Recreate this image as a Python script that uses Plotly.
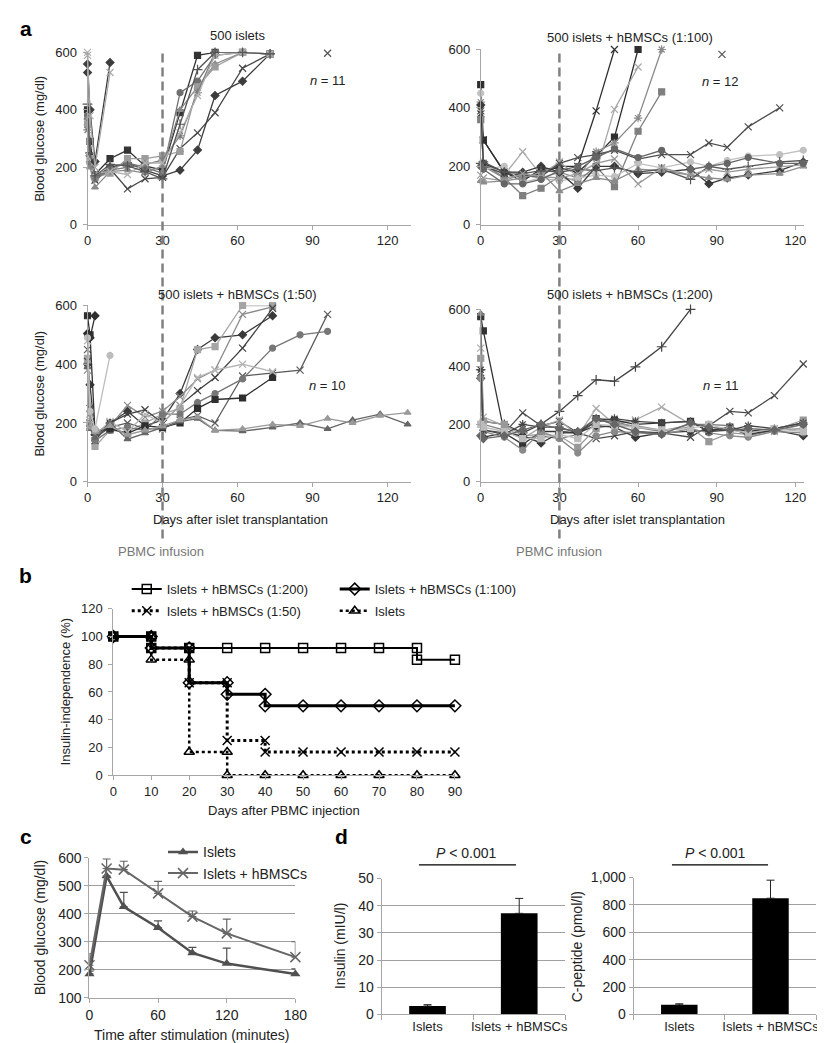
import plotly.graph_objects as go

# ======================= DATA =======================
# Panel a - blood glucose (mg/dl) per mouse vs days after islet transplantation
TL_DAYS = [0, 1, 3, 9, 16, 23, 30, 37, 44, 51, 62, 73]
TL_GLUCOSE = [
    [400, 290, 175, 230, 260, 205, 190, 390, 590, 600, 600, 595],
    [530, 240, 165, 200, 215, 190, 170, 190, 260, 450, 500, 595],
    [360, 230, 155, 195, 125, 160, 165, 265, 320, 390, 545, 595],
    [380, 215, 165, 195, 215, 200, 180, 460, 500, 590, 600, 595],
    [370, 200, 130, 185, 190, 180, 205, 400, 480, 560, 600, 595],
    [350, 230, 165, 180, 230, 230, 240, 255, 480, 550, 600, 595],
    [330, 220, 160, 190, 200, 210, 225, 310, 460, 600, 600, 595],
    [600, 230, 180, 185, 175, 215, 215, 320, 450, 590, 600, 595],
    [420, 250, 170, 210, 205, 185, 160, 350, 540, 600, 600, 595],
]
TL_EARLY_DAYS = [0, 1, 3, 9]
TL_EARLY = [
    [560, 400, 220, 565],
    [590, 380, 200, 530],
]
TL_LONE_DAY = [96]
TL_LONE_VALUE = [597]

TR_DAYS = [0, 1, 9, 16, 23, 30, 37, 44, 51, 60, 69, 80, 87, 94, 102, 114, 123]
TR_GLUCOSE = [
    [380, 290, 180, 160, 175, 200, 200, 390, 600],
    [480, 290, 180, 150, 190, 195, 180, 235, 300, 600],
    [400, 210, 170, 250, 170, 215, 165, 180, 395, 540],
    [420, 200, 160, 170, 160, 180, 160, 250, 280, 365, 600],
    [360, 210, 160, 100, 125, 165, 150, 200, 130, 320, 455],
    [390, 200, 175, 170, 165, 210, 230, 240, 255, 225, 240, 240, 280, 265, 335, 400],
    [450, 190, 200, 145, 160, 150, 160, 170, 165, 210, 195, 215, 200, 220, 235, 240, 255],
    [410, 210, 180, 180, 200, 180, 125, 200, 200, 175, 180, 190, 140, 160, 170, 185, 215],
    [150, 145, 150, 160, 180, 115, 140, 160, 150, 190, 185, 170, 160, 155, 170, 175, 200],
    [210, 215, 180, 175, 185, 180, 190, 185, 195, 180, 190, 155, 200, 190, 200, 215, 220],
    [170, 160, 150, 175, 165, 160, 175, 210, 225, 140, 195, 170, 190, 180, 190, 200, 205],
    [200, 190, 140, 140, 155, 185, 200, 230, 260, 230, 255, 190, 200, 210, 230, 210, 210],
]
TR_LONE_DAY = [92]
TR_LONE_VALUE = [583]

BL_DAYS = [0, 1, 3, 9, 16, 23, 30, 37, 44, 51, 62, 74, 85, 96, 106, 117, 128]
BL_GLUCOSE = [
    [400, 330, 160, 200, 240, 190, 210, 300, 450, 490, 500, 565],
    [420, 200, 120, 175, 170, 200, 230, 250, 450, 460, 600, 600],
    [380, 230, 150, 190, 260, 220, 240, 290, 350, 380, 570, 595],
    [410, 250, 140, 200, 230, 245, 200, 260, 310, 355, 455, 590],
    [450, 200, 150, 185, 200, 180, 180, 210, 225, 200, 360, 370, 380, 570],
    [500, 190, 140, 175, 185, 175, 230, 230, 270, 300, 350, 455, 500, 512],
    [565, 500, 170, 180, 165, 190, 185, 200, 250, 280, 285, 355],
    [480, 210, 160, 205, 170, 230, 200, 260, 355, 380, 400, 375],
    [390, 180, 150, 200, 145, 165, 185, 205, 215, 175, 172, 185, 200, 180, 210, 230, 195],
    [410, 185, 170, 190, 160, 175, 190, 210, 220, 175, 180, 195, 190, 215, 200, 225, 235],
]
BL_EARLY_DAYS = [0, 1, 3, 9]
BL_EARLY = [
    [505, 490, 565],
    [490, 240, 180, 430],
]

BR_DAYS = [0, 1, 9, 16, 23, 30, 37, 44, 51, 59, 69, 80, 87, 95, 102, 112, 123]
BR_GLUCOSE = [
    [390, 210, 200, 170, 200, 245, 300, 355, 350, 400, 470, 600],
    [380, 180, 170, 240, 195, 210, 170, 150, 160, 175, 170, 155, 195, 245, 240, 300, 410],
    [465, 225, 195, 150, 190, 215, 160, 255, 200, 215, 260, 200, 190, 185, 175, 175, 200],
    [575, 525, 170, 130, 175, 175, 170, 220, 215, 200, 205, 210, 175, 190, 175, 185, 205],
    [585, 200, 180, 150, 160, 150, 165, 210, 210, 190, 175, 200, 200, 195, 160, 180, 185],
    [430, 210, 200, 160, 165, 160, 120, 185, 200, 195, 180, 190, 140, 170, 165, 180, 215],
    [360, 155, 170, 160, 135, 170, 170, 195, 190, 155, 170, 175, 180, 185, 165, 180, 160],
    [360, 175, 155, 110, 175, 150, 100, 160, 175, 170, 165, 185, 170, 160, 155, 175, 170],
    [390, 180, 165, 200, 190, 190, 170, 210, 220, 210, 205, 210, 175, 180, 195, 185, 205],
    [200, 190, 175, 150, 150, 165, 150, 200, 195, 190, 180, 185, 200, 180, 170, 185, 175],
    [160, 150, 160, 180, 200, 185, 175, 220, 200, 175, 165, 205, 190, 180, 185, 180, 200],
]

PANEL_A_TITLES = ["500 islets", "500 islets + hBMSCs (1:100)",
                  "500 islets + hBMSCs (1:50)", "500 islets + hBMSCs (1:200)"]
PANEL_A_N = [11, 12, 10, 11]
PANEL_A_XTICKS = [0, 30, 60, 90, 120]
PANEL_A_YTICKS = [0, 200, 400, 600]
PBMC_DAY = 30

# Panel b - Kaplan-Meier insulin independence (%)
KM_DAYS = [0, 10, 20, 30, 40, 50, 60, 70, 80, 90]
KM_200 = [100, 91.7, 91.7, 91.7, 91.7, 91.7, 91.7, 91.7, 83.3, 83.3]
KM_100 = [100, 91.7, 66.7, 58.3, 50, 50, 50, 50, 50, 50]
KM_50 = [100, 91.7, 66.7, 25, 16.7, 16.7, 16.7, 16.7, 16.7, 16.7]
KM_ISLETS = [100, 83.3, 16.7, 0, 0, 0, 0, 0, 0, 0]
KM_NAMES = ["Islets + hBMSCs (1:200)", "Islets + hBMSCs (1:100)",
            "Islets + hBMSCs (1:50)", "Islets"]
KM_PVALUES = ["<i>P</i> < 0.001", "<i>P</i> = 0.002", "<i>P</i> = 0.013"]

# Panel c - glucose tolerance
IPGTT_MIN = [0, 15, 30, 60, 90, 120, 180]
IPGTT_ISLETS = [185, 535, 425, 350, 260, 222, 185]
IPGTT_ISLETS_ERR = [10, 0, 52, 25, 20, 55, 18]
IPGTT_HBMSC = [216, 562, 558, 473, 390, 330, 245]
IPGTT_HBMSC_ERR = [42, 34, 30, 43, 20, 51, 55]

# Panel d - insulin and C-peptide
D_GROUPS = ["Islets", "Islets + hBMSCs"]
INSULIN = [3.1, 37.2]
INSULIN_ERR = [0.5, 5.5]
CPEPTIDE = [70, 849]
CPEPTIDE_ERR = [8, 132]
D_PVALUE = "<i>P</i> < 0.001"

# ======================= FIGURE =======================
W, H = 825, 1043
FONT = "Liberation Sans, Arial, Helvetica, sans-serif"


def px(x):
    return x / W


def py(y):
    return 1 - y / H


def dom_x(a, b):
    return [a / W, b / W]


def dom_y(top, bottom):
    return [1 - bottom / H, 1 - top / H]


fig = go.Figure()

LINE_SYMBOLS = {"x-thin-open", "asterisk-open", "cross-thin-open"}


def add_series(days, vals, color, symbol, xa, ya, width=1.3):
    n = len(vals)
    size = 7 if symbol in LINE_SYMBOLS else 6
    fig.add_trace(go.Scatter(
        x=days[:n], y=vals, mode="lines+markers",
        line=dict(color=color, width=width),
        marker=dict(symbol=symbol, size=size, color=color,
                    line=dict(color=color, width=1.2)),
        xaxis=xa, yaxis=ya, showlegend=False, cliponaxis=False,
        hoverinfo="skip"))


TL_STYLE = [("#333333", "square"), ("#3d3d3d", "diamond"), ("#474747", "x-thin-open"),
            ("#707070", "circle"), ("#8a8a8a", "triangle-up"), ("#9c9c9c", "square"),
            ("#7a7a7a", "asterisk-open"), ("#b0b0b0", "x-thin-open"), ("#555555", "cross-thin-open")]
TL_EARLY_STYLE = [("#3d3d3d", "diamond"), ("#a8a8a8", "x-thin-open")]
TR_STYLE = [("#2e2e2e", "x-thin-open"), ("#2e2e2e", "square"), ("#a8a8a8", "x-thin-open"),
            ("#8a8a8a", "asterisk-open"), ("#7f7f7f", "square"), ("#4d4d4d", "x-thin-open"),
            ("#c0c0c0", "circle"), ("#3a3a3a", "diamond"), ("#8c8c8c", "triangle-up"),
            ("#555555", "cross-thin-open"), ("#9a9a9a", "x-thin-open"), ("#666666", "circle")]
BL_STYLE = [("#3a3a3a", "diamond"), ("#a5a5a5", "square"), ("#8a8a8a", "x-thin-open"),
            ("#404040", "x-thin-open"), ("#5a5a5a", "x-thin-open"), ("#777777", "circle"),
            ("#2f2f2f", "square"), ("#b5b5b5", "x-thin-open"), ("#666666", "triangle-up"),
            ("#9a9a9a", "triangle-up")]
BL_EARLY_STYLE = [("#2f2f2f", "diamond"), ("#bdbdbd", "circle")]
BR_STYLE = [("#444444", "cross-thin-open"), ("#4a4a4a", "x-thin-open"), ("#aaaaaa", "x-thin-open"),
            ("#333333", "square"), ("#7f7f7f", "triangle-up"), ("#999999", "square"),
            ("#3a3a3a", "diamond"), ("#8a8a8a", "circle"), ("#454545", "asterisk-open"),
            ("#bbbbbb", "square"), ("#666666", "diamond")]

for vals, (c, s) in zip(TL_GLUCOSE, TL_STYLE):
    add_series(TL_DAYS, vals, c, s, "x", "y")
for vals, (c, s) in zip(TL_EARLY, TL_EARLY_STYLE):
    add_series(TL_EARLY_DAYS, vals, c, s, "x", "y")
add_series(TL_LONE_DAY, TL_LONE_VALUE, "#555555", "x-thin-open", "x", "y")

for vals, (c, s) in zip(TR_GLUCOSE, TR_STYLE):
    add_series(TR_DAYS, vals, c, s, "x2", "y2")
add_series(TR_LONE_DAY, TR_LONE_VALUE, "#555555", "x-thin-open", "x2", "y2")

for vals, (c, s) in zip(BL_GLUCOSE, BL_STYLE):
    add_series(BL_DAYS, vals, c, s, "x3", "y3")
for vals, (c, s) in zip(BL_EARLY, BL_EARLY_STYLE):
    add_series(BL_EARLY_DAYS, vals, c, s, "x3", "y3")

for vals, (c, s) in zip(BR_GLUCOSE, BR_STYLE):
    add_series(BR_DAYS, vals, c, s, "x4", "y4")


# ---- panel b ----
def km_steps(t, s):
    xs, ys = [t[0]], [s[0]]
    for i in range(1, len(t)):
        if s[i] != s[i - 1]:
            xs.append(t[i])
            ys.append(s[i - 1])
        xs.append(t[i])
        ys.append(s[i])
    return xs, ys


KM_STYLE = [
    dict(line=dict(color="black", width=2), symbol="square-open", legend="legend"),
    dict(line=dict(color="black", width=3), symbol="diamond-open", legend="legend"),
    dict(line=dict(color="black", width=3, dash="dot"), symbol="x-thin-open", legend="legend2"),
    dict(line=dict(color="black", width=2.5, dash="dot"), symbol="triangle-up-open", legend="legend2"),
]
for name, series, st in zip(KM_NAMES, [KM_200, KM_100, KM_50, KM_ISLETS], KM_STYLE):
    xs, ys = km_steps(KM_DAYS, series)
    fig.add_trace(go.Scatter(
        x=xs, y=ys, mode="lines+markers", name=name,
        line=st["line"],
        marker=dict(symbol=st["symbol"], size=9, color="black",
                    line=dict(color="black", width=1.5)),
        xaxis="x5", yaxis="y5", legend=st["legend"], cliponaxis=False,
        hoverinfo="skip"))

# ---- panel c ----
fig.add_trace(go.Scatter(
    x=IPGTT_MIN, y=IPGTT_ISLETS, name="Islets", mode="lines+markers",
    line=dict(color="#505050", width=2.5),
    marker=dict(symbol="triangle-up", size=9, color="#505050"),
    error_y=dict(type="data", array=IPGTT_ISLETS_ERR, symmetric=False,
                 arrayminus=[0] * len(IPGTT_ISLETS_ERR), color="#505050",
                 thickness=1.2, width=4),
    xaxis="x6", yaxis="y6", legend="legend3", cliponaxis=False, hoverinfo="skip"))
fig.add_trace(go.Scatter(
    x=IPGTT_MIN, y=IPGTT_HBMSC, name="Islets + hBMSCs", mode="lines+markers",
    line=dict(color="#666666", width=2),
    marker=dict(symbol="x-thin-open", size=10, color="#666666",
                line=dict(color="#666666", width=1.5)),
    error_y=dict(type="data", array=IPGTT_HBMSC_ERR, symmetric=False,
                 arrayminus=[0] * len(IPGTT_HBMSC_ERR), color="#666666",
                 thickness=1.2, width=4),
    xaxis="x6", yaxis="y6", legend="legend3", cliponaxis=False, hoverinfo="skip"))

# ---- panel d ----
for vals, errs, xa, ya in [(INSULIN, INSULIN_ERR, "x7", "y7"),
                           (CPEPTIDE, CPEPTIDE_ERR, "x8", "y8")]:
    fig.add_trace(go.Bar(
        x=D_GROUPS, y=vals, width=0.4, marker=dict(color="black", line=dict(width=0)),
        error_y=dict(type="data", array=errs, symmetric=False,
                     arrayminus=[0] * len(errs), color="#222222", thickness=1, width=4),
        xaxis=xa, yaxis=ya, showlegend=False, hoverinfo="skip"))

# ======================= AXES =======================
TICKFONT = dict(family=FONT, size=13, color="#222222")
TICKFONT14 = dict(family=FONT, size=14, color="#222222")
A_STYLE = dict(showline=True, linecolor="#a6a6a6", linewidth=1, ticks="outside",
               tickcolor="#a6a6a6", ticklen=4, showgrid=False, zeroline=False,
               tickfont=TICKFONT, fixedrange=True)
GRID = dict(showgrid=True, gridcolor="#a0a0a0", gridwidth=1)

layout_axes = dict(
    xaxis=dict(domain=dom_x(77, 407), range=[0, 129.4], anchor="y", tickvals=PANEL_A_XTICKS, **A_STYLE),
    yaxis=dict(domain=dom_y(37, 212), range=[0, 600], anchor="x", tickvals=PANEL_A_YTICKS,
               ticklabelstandoff=3, **A_STYLE),
    xaxis2=dict(domain=dom_x(478, 808), range=[0, 123.4], anchor="y2", tickvals=PANEL_A_XTICKS, **A_STYLE),
    yaxis2=dict(domain=dom_y(34, 212), range=[0, 600], anchor="x2", tickvals=PANEL_A_YTICKS,
                ticklabelstandoff=3, **A_STYLE),
    xaxis3=dict(domain=dom_x(77, 407), range=[0, 129.4], anchor="y3", tickvals=PANEL_A_XTICKS, **A_STYLE),
    yaxis3=dict(domain=dom_y(294, 473), range=[0, 600], anchor="x3", tickvals=PANEL_A_YTICKS,
                ticklabelstandoff=3, **A_STYLE),
    xaxis4=dict(domain=dom_x(478, 808), range=[0, 123.4], anchor="y4", tickvals=PANEL_A_XTICKS, **A_STYLE),
    yaxis4=dict(domain=dom_y(298, 473), range=[0, 600], anchor="x4", tickvals=PANEL_A_YTICKS,
                ticklabelstandoff=3, **A_STYLE),
    xaxis5=dict(domain=dom_x(103.3, 451.7), range=[0, 90], anchor="y5", dtick=10, tick0=0, **A_STYLE),
    yaxis5=dict(domain=dom_y(602, 771), range=[0, 120], anchor="x5", dtick=20, tick0=0,
                ticklabelstandoff=3, **A_STYLE),
    xaxis6=dict(domain=dom_x(79, 289), range=[0, 180], anchor="y6", tickvals=[0, 60, 120, 180],
                **{**A_STYLE, "tickfont": TICKFONT14}),
    yaxis6=dict(domain=dom_y(855, 997), range=[100, 600], anchor="x6", dtick=100, tick0=100,
                **{**A_STYLE, **GRID, "tickfont": TICKFONT14}),
    xaxis7=dict(domain=dom_x(377, 564), range=[-0.5, 1.5], anchor="y7", type="category",
                tickson="boundaries", tickangle=0,
                **{**A_STYLE, "ticklen": 5, "tickfont": TICKFONT}),
    yaxis7=dict(domain=dom_y(876, 1014), range=[0, 50], anchor="x7", dtick=10, tick0=0,
                **{**A_STYLE, **GRID, "tickfont": TICKFONT14}),
    xaxis8=dict(domain=dom_x(634, 820), range=[-0.5, 1.5], anchor="y8", type="category",
                tickson="boundaries", tickangle=0,
                **{**A_STYLE, "ticklen": 5, "tickfont": TICKFONT}),
    yaxis8=dict(domain=dom_y(875, 1014), range=[0, 1000], anchor="x8", dtick=200, tick0=0,
                tickformat=",", **{**A_STYLE, **GRID, "tickfont": TICKFONT14}),
)

# ======================= ANNOTATIONS =======================
ann = []


def text(t, x, y, size=13, color="#222222", angle=0, xanchor="center", bold=False):
    ann.append(dict(text=f"<b>{t}</b>" if bold else t, x=px(x), y=py(y), xref="paper", yref="paper",
                    showarrow=False, xanchor=xanchor, yanchor="middle", textangle=angle,
                    font=dict(family=FONT, size=size, color=color)))


# panel letters
text("a", 14, 13, size=21, color="black", bold=True)
text("b", 14, 568, size=21, color="black", bold=True)
text("c", 14, 833, size=21, color="black", bold=True)
text("d", 336, 833, size=21, color="black", bold=True)

# panel a texts
title_pos = [(230, 20), (630, 22), (230, 283), (630, 283)]
n_pos = [(322, 66), (723, 67), (322, 375), (723, 375)]
for t, (x, y) in zip(PANEL_A_TITLES, title_pos):
    text(t, x, y, size=13)
for n, (x, y) in zip(PANEL_A_N, n_pos):
    text(f"<i>n</i> = {n}", x, y, size=13)
text("Blood glucose (mg/dl)", 28, 124, size=13, angle=-90)
text("Blood glucose (mg/dl)", 28, 383, size=13, angle=-90)
text("Days after islet transplantation", 233, 511, size=13)
text("Days after islet transplantation", 638, 511, size=13)
text("PBMC infusion", 152, 544, size=13, color="#777777")
text("PBMC infusion", 558, 544, size=13, color="#777777")

# panel b texts
text("Insulin-independence (%)", 55, 686, size=13, angle=-90)
text("Days after PBMC injection", 277, 807, size=13)
for t, v in zip(KM_PVALUES, [KM_200[-1], KM_100[-1], KM_50[-1]]):
    ann.append(dict(text=t, x=92.5, y=v, xref="x5", yref="y5", showarrow=False,
                    xanchor="left", yanchor="middle",
                    font=dict(family=FONT, size=13, color="#222")))

# panel c texts
text("Blood glucose (mg/dl)", 28, 926, size=14, angle=-90)
text("Time after stimulation (minutes)", 184, 1035, size=14)

# panel d texts
text("Insulin (mIU/l)", 334, 945, size=14, angle=-90)
text("C-peptide (pmol/l)", 576, 945, size=14, angle=-90)
text(D_PVALUE, 463, 850, size=14)
text(D_PVALUE, 717, 850, size=14)

# ======================= SHAPES =======================
shapes = []
for xr in ["x", "x2"]:
    shapes.append(dict(type="line", xref=xr, yref="paper", x0=PBMC_DAY, x1=PBMC_DAY,
                       y0=py(38), y1=py(533),
                       line=dict(color="#808080", width=2.5, dash="9px,5px")))
for x0, x1 in [(415, 514), (673, 771)]:
    shapes.append(dict(type="line", xref="paper", yref="paper", x0=px(x0), x1=px(x1),
                       y0=py(862), y1=py(862), line=dict(color="black", width=1.2)))

LEGEND_COMMON = dict(orientation="h", xanchor="left", yanchor="middle", bgcolor="rgba(0,0,0,0)",
                     font=dict(family=FONT, size=13, color="#222"), entrywidthmode="pixels",
                     entrywidth=163, itemwidth=30, tracegroupgap=0)

fig.update_layout(
    width=W, height=H, autosize=False,
    margin=dict(l=0, r=0, t=0, b=0),
    paper_bgcolor="white", plot_bgcolor="white",
    font=dict(family=FONT, size=13, color="#222"),
    annotations=ann, shapes=shapes,
    legend=dict(x=px(117), y=py(582), **LEGEND_COMMON),
    legend2=dict(x=px(117), y=py(604), **LEGEND_COMMON),
    legend3=dict(x=px(154), y=py(860), orientation="v", xanchor="left", yanchor="middle",
                 bgcolor="rgba(0,0,0,0)", itemwidth=30,
                 font=dict(family=FONT, size=14, color="#222")),
    **layout_axes,
)

fig.write_html("out.html")
